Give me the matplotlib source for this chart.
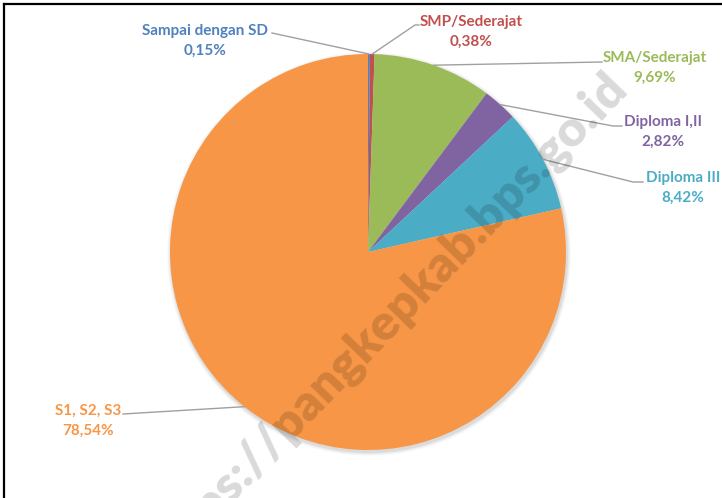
import matplotlib
matplotlib.use("Agg")
import matplotlib.pyplot as plt
from matplotlib.patches import Circle
import numpy as np

# Data
categories = ["Sampai dengan SD", "SMP/Sederajat", "SMA/Sederajat",
              "Diploma I,II", "Diploma III", "S1, S2, S3"]
values = [0.15, 0.38, 9.69, 2.82, 8.42, 78.54]
pct_labels = ["0,15%", "0,38%", "9,69%", "2,82%", "8,42%", "78,54%"]
colors = ["#4F81BD", "#C0504D", "#9BBB59", "#8064A2", "#4BACC6", "#F79646"]

W, H = 722, 498
plt.rcParams['font.family'] = ['Lato', 'DejaVu Sans']

fig = plt.figure(figsize=(W / 100, H / 100), dpi=100)
ax = fig.add_axes([0, 0, 1, 1])

cx, cy, r = 368, H - 252, 198

# soft shadow
for i, a in enumerate([0.05, 0.04, 0.03, 0.02]):
    ax.add_patch(Circle((cx + 1, cy - 2), r + 1 + i, color='black', alpha=a, lw=0, zorder=0))

wedges, _ = ax.pie(values, colors=colors, startangle=90, counterclock=False,
                   center=(cx, cy), radius=r, wedgeprops=dict(linewidth=0),
                   frame=True)
ax.set_xlim(0, W)
ax.set_ylim(0, H)
ax.set_aspect('equal')
ax.axis('off')

# label layout (pixel coords, y from top): text center x, first line y, line end, elbow
label_x = [205, 471, 655, 663, 683, 88]
label_y = [31, 22, 58, 122, 178, 411]
line_end = [(272, 33), (415, 25), (602, 62), (613, 126), (633, 182), (123, 414)]
line_tail = [None, (419, 25), None, (622, 126), (643, 182), None]

for w, name, pct, col, tx, ty, le, lt in zip(wedges, categories, pct_labels, colors,
                                             label_x, label_y, line_end, line_tail):
    ang = np.deg2rad((w.theta1 + w.theta2) / 2)
    px, py = cx + r * np.cos(ang), cy + r * np.sin(ang)
    xs = [px, le[0]]
    ys = [py, H - le[1]]
    if lt is not None:
        xs.append(lt[0])
        ys.append(H - lt[1])
    ax.plot(xs, ys, color='#a0a0a0', lw=1.0, zorder=3)
    ax.text(tx, H - ty, name, color=col, fontsize=11, fontweight='bold',
            ha='center', va='center', zorder=4)
    ax.text(tx, H - ty - 20, pct, color=col, fontsize=11, fontweight='bold',
            ha='center', va='center', zorder=4)

# frame lines (top and left)
ax.plot([4, W], [H - 4, H - 4], color='black', lw=1.6, zorder=5, clip_on=False)
ax.plot([4, 4], [H - 4, 0], color='black', lw=1.6, zorder=5, clip_on=False)

# watermark
fig.text(386 / W, 1 - 321 / H, "https://pangkepkab.bps.go.id", rotation=46,
         fontsize=36, fontweight='heavy', color='black', alpha=0.15,
         ha='center', va='center', zorder=10)

fig.savefig("out.png", dpi=100)
